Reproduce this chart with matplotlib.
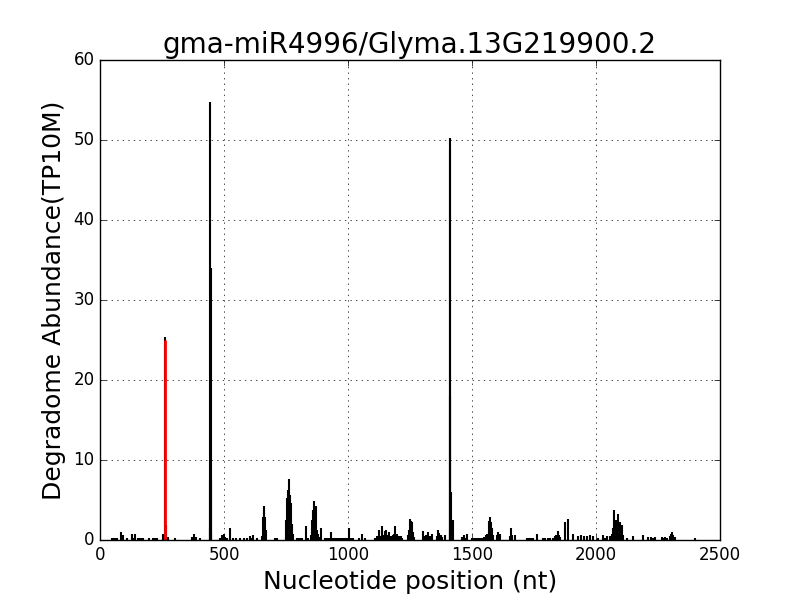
import matplotlib
matplotlib.use('Agg')
import matplotlib.pyplot as plt

plt.style.use('classic')

# degradome reads (position in nt, abundance in TP10M)
posiciones = [48, 55, 62, 70, 85, 91, 107, 130, 135, 141, 153, 160, 166, 173, 198,
              215, 222, 230, 254, 262, 266, 275, 302, 370, 380, 388, 403,
              443, 444, 445, 446, 447, 448,
              484, 492, 499, 506, 511, 524, 537, 550, 565, 580, 592, 605, 611, 617, 633,
              652, 657, 661, 663, 666, 669, 706, 714,
              750, 752, 756, 759, 762, 766, 770, 773, 778, 793, 800, 808, 815, 831, 840,
              852, 856, 859, 862, 866, 870, 874, 879, 884, 893,
              907, 915, 922, 933, 940, 948, 956, 964, 972, 980, 988, 996, 1003, 1012, 1020,
              1045, 1056, 1069, 1109, 1115, 1120, 1126, 1131, 1136, 1141, 1148, 1155, 1160,
              1166, 1172, 1180, 1186, 1191, 1197, 1204, 1212, 1218,
              1242, 1246, 1250, 1254, 1258, 1262, 1266, 1302, 1308, 1315, 1323, 1330, 1340,
              1358, 1363, 1368, 1374, 1378, 1391,
              1410, 1411, 1412, 1413, 1414, 1415, 1416, 1418, 1422,
              1460, 1466, 1472, 1479, 1500, 1508, 1516, 1524, 1532,
              1540, 1548, 1556, 1562, 1567, 1570, 1573, 1576, 1580, 1584,
              1600, 1603, 1608, 1613, 1653, 1657, 1661, 1673,
              1721, 1727, 1734, 1740, 1747, 1761, 1786, 1795, 1805, 1815,
              1828, 1834, 1840, 1846, 1851, 1855, 1875, 1888, 1909,
              1928, 1940, 1950, 1962, 1975, 1988, 2010, 2030, 2037, 2044,
              2057, 2064, 2070, 2074, 2078, 2082, 2086, 2090, 2094, 2097, 2100, 2103, 2108,
              2124, 2151, 2191, 2211, 2220, 2229, 2238,
              2265, 2272, 2279, 2285, 2298, 2302, 2306, 2312, 2319, 2399]
valores = [0.3, 0.3, 0.3, 0.3, 1.0, 0.6, 0.2, 0.7, 0.3, 0.7, 0.3, 0.3, 0.3, 0.3, 0.3,
           0.3, 0.3, 0.3, 0.8, 25.4, 1.9, 0.4, 0.3, 0.4, 0.7, 0.4, 0.3,
           1.5, 7.5, 54.8, 34.0, 7.5, 1.0,
           0.3, 0.6, 0.8, 0.4, 0.3, 1.5, 0.3, 0.3, 0.3, 0.3, 0.3, 0.5, 0.3, 0.6, 0.3,
           0.5, 2.9, 4.2, 3.5, 2.9, 1.2, 0.3, 0.3,
           0.4, 2.5, 5.2, 6.2, 7.6, 5.6, 4.6, 2.0, 0.8, 0.3, 0.3, 0.3, 0.3, 1.8, 0.3,
           0.6, 2.5, 3.8, 4.9, 3.2, 4.2, 1.2, 0.7, 0.4, 1.5,
           0.3, 0.3, 0.3, 1.0, 0.3, 0.3, 0.3, 0.3, 0.3, 0.3, 0.3, 0.3, 1.5, 0.3, 0.3,
           0.3, 0.7, 0.3, 0.3, 0.5, 0.4, 1.3, 0.5, 1.8, 0.6, 1.1, 1.3, 0.6,
           1.0, 0.5, 0.6, 0.7, 1.8, 0.7, 0.5, 0.5, 0.3,
           0.6, 1.2, 2.6, 2.4, 2.3, 1.0, 0.4, 1.1, 0.5, 0.6, 1.0, 0.5, 0.7,
           0.5, 1.25, 0.9, 0.6, 0.4, 0.6,
           1.2, 48.7, 50.2, 18.0, 6.0, 2.0, 1.0, 0.5, 2.5,
           0.4, 0.6, 0.3, 0.7, 0.3, 0.3, 0.3, 0.3, 0.3,
           0.3, 0.4, 0.6, 0.7, 1.0, 2.4, 2.9, 2.3, 1.5, 0.6,
           0.6, 1.0, 0.5, 0.7, 0.5, 1.5, 0.6, 0.6,
           0.3, 0.3, 0.3, 0.3, 0.3, 0.7, 0.3, 0.3, 0.3, 0.3,
           0.3, 0.5, 0.6, 1.1, 0.6, 0.4, 2.3, 2.6, 0.7,
           0.5, 0.6, 0.5, 0.5, 0.6, 0.5, 0.3, 0.6, 0.3, 0.5,
           0.5, 0.8, 1.5, 3.7, 2.1, 2.5, 1.9, 3.3, 2.2, 2.3, 1.6, 1.9, 0.6,
           0.3, 0.5, 0.6, 0.4, 0.4, 0.3, 0.4,
           0.4, 0.3, 0.4, 0.3, 0.5, 0.7, 1.0, 0.6, 0.4, 0.3]

# sitio de corte del miRNA
pos_corte = [262]
val_corte = [25.0]

fig = plt.figure(figsize=(8, 6), dpi=100)
ax = fig.add_subplot(111)
ax.vlines(posiciones, 0, valores, colors='k', linewidth=1.5)
ax.vlines(pos_corte, 0, val_corte, colors='r', linewidth=2)
ax.set_xlim(0, 2500)
ax.set_ylim(0, 60)
ax.grid(True)
ax.set_title('gma-miR4996/Glyma.13G219900.2', fontsize=20)
ax.set_xlabel('Nucleotide position (nt)', fontsize=18)
ax.set_ylabel('Degradome Abundance(TP10M)', fontsize=18)
fig.savefig('out.png', dpi=100)
